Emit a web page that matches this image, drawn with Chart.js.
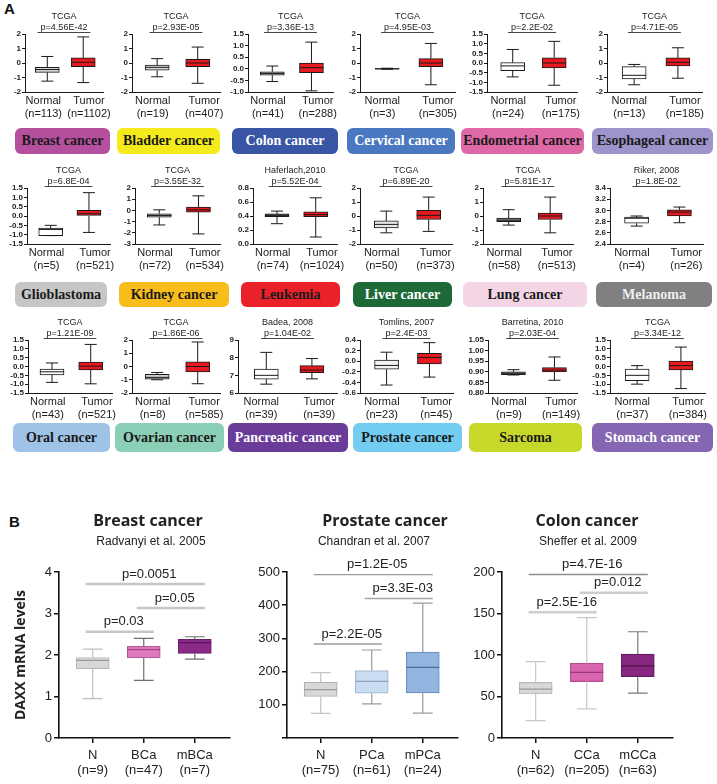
<!DOCTYPE html>
<html>
<head>
<meta charset="utf-8">
<script src="https://cdn.jsdelivr.net/npm/chart.js@4.4.1/dist/chart.umd.min.js"></script>
<style>
  body { margin:0; width:717px; height:784px; background:#fff; position:relative; overflow:hidden;
         font-family:"Liberation Sans", Arial, sans-serif; }
  canvas { position:absolute; }
  .tag { position:absolute; border-radius:6px; display:flex; align-items:center; justify-content:center;
         font-family:"Liberation Serif", "Times New Roman", serif; font-weight:bold; font-size:14px; white-space:nowrap; }
  .letter { position:absolute; font-weight:bold; font-size:15px; color:#111; }
</style>
</head>
<body>
<div class="letter" style="left:4px;top:0px">A</div>
<div class="letter" style="left:9px;top:513px">B</div>
<script>
Chart.defaults.font.family = '"Liberation Sans", Arial, sans-serif';
Chart.defaults.color = '#222';

// ---------- Panel A: Normal vs Tumor, 18 cancer types ----------
const cancers = ['Breast cancer', 'Bladder cancer', 'Colon cancer', 'Cervical cancer', 'Endometrial cancer', 'Esophageal cancer',
                 'Glioblastoma', 'Kidney cancer', 'Leukemia', 'Liver cancer', 'Lung cancer', 'Melanoma',
                 'Oral cancer', 'Ovarian cancer', 'Pancreatic cancer', 'Prostate cancer', 'Sarcoma', 'Stomach cancer'];
const sources = ['TCGA', 'TCGA', 'TCGA', 'TCGA', 'TCGA', 'TCGA',
                 'TCGA', 'TCGA', 'Haferlach,2010', 'TCGA', 'TCGA', 'Riker, 2008',
                 'TCGA', 'TCGA', 'Badea, 2008', 'Tomlins, 2007', 'Barretina, 2010', 'TCGA'];
const pValues = ['p=4.56E-42', 'p=2.93E-05', 'p=3.36E-13', 'p=4.95E-03', 'p=2.2E-02', 'p=4.71E-05',
                 'p=6.8E-04', 'p=3.55E-32', 'p=5.52E-04', 'p=6.89E-20', 'p=5.81E-17', 'p=1.8E-02',
                 'p=1.21E-09', 'p=1.86E-06', 'p=1.04E-02', 'p=2.4E-03', 'p=2.03E-04', 'p=3.34E-12'];
const nNormal = [113, 19, 41, 3, 24, 13, 5, 72, 74, 50, 58, 4, 43, 8, 39, 23, 9, 37];
const nTumor = [1102, 407, 288, 305, 175, 185, 521, 534, 1024, 373, 513, 26, 521, 585, 39, 45, 149, 384];
// [min, q1, median, q3, max]
const normalStats = [
  [-1.25, -0.65, -0.45, -0.3, 0.45], [-0.95, -0.5, -0.3, -0.15, 0.3], [-0.55, -0.27, -0.2, -0.13, 0.12],
  [-0.43, -0.42, -0.4, -0.37, -0.36], [-0.72, -0.4, -0.15, 0.02, 0.7], [-1.5, -1.1, -0.85, -0.25, -0.1],
  [-1.05, -1.05, -0.72, -0.65, -0.5], [-1.3, -0.6, -0.45, -0.3, 0.05], [0.29, 0.39, 0.41, 0.43, 0.47],
  [-1.2, -0.85, -0.6, -0.35, 0.35], [-0.65, -0.4, -0.3, -0.15, 0.45], [2.72, 2.77, 2.86, 2.88, 2.9],
  [-0.9, -0.47, -0.3, -0.15, 0.2], [-1.0, -0.95, -0.82, -0.6, -0.45], [6.5, 6.78, 7.0, 7.35, 8.3],
  [-0.45, -0.15, -0.08, 0.02, 0.17], [0.885, 0.887, 0.893, 0.9, 0.91], [-1.0, -0.8, -0.5, -0.15, 0.05]
];
const tumorStats = [
  [-1.35, -0.25, 0.05, 0.35, 1.8], [-1.4, -0.25, 0.0, 0.25, 1.1], [-0.95, -0.17, 0.05, 0.25, 1.15],
  [-1.5, -0.25, 0.0, 0.3, 1.35], [-1.15, -0.25, 0.0, 0.27, 1.12], [-1.05, -0.2, 0.05, 0.35, 1.05],
  [-0.88, 0.0, 0.12, 0.3, 1.25], [-2.1, -0.15, 0.05, 0.3, 1.3], [0.1, 0.39, 0.42, 0.46, 0.66],
  [-1.1, -0.25, 0.05, 0.4, 1.35], [-1.2, -0.25, 0.0, 0.2, 1.35], [2.78, 2.9, 2.97, 3.01, 3.06],
  [-0.98, -0.2, 0.02, 0.25, 1.25], [-1.3, -0.4, 0.0, 0.35, 1.85], [6.8, 7.15, 7.3, 7.55, 7.95],
  [-0.3, -0.05, 0.07, 0.15, 0.35], [0.86, 0.9, 0.908, 0.92, 0.97], [-1.25, -0.2, 0.05, 0.3, 1.1]
];
const yMin = [-2, -2, -1, -2, -1.5, -2, -1.5, -3, 0, -2, -2, 2.4, -1.5, -2, 6, -0.6, 0.8, -1.5];
const yMax = [2, 2, 1.5, 2, 1.5, 2, 1.5, 2, 0.8, 2, 2, 3.4, 1.5, 2, 9, 0.4, 1.05, 1.5];
const yStep = [1, 1, 0.5, 1, 0.5, 1, 0.5, 1, 0.2, 1, 1, 0.2, 0.5, 1, 1, 0.2, 0.05, 0.5];

// layout / style for panel A
const aAxisX = [25, 132, 248, 360, 487, 607, 27, 135, 253, 360, 483, 610, 28, 132, 238, 360, 488, 610];
const aRight = [103, 220, 333, 455, 577, 702, 110, 220, 337, 452, 573, 703, 112, 220, 337, 453, 577, 705];
const rowTop = [34, 188, 340];
const rowBottom = [92, 244, 393];
const normalFill = ['#d9d9d9', '#d9d9d9', '#cfcfcf', '#555555', '#ffffff', '#ffffff', '#ffffff', '#cfcfcf', '#6e6e6e',
                    '#e6e6e6', '#8f8f8f', '#ffffff', '#ffffff', '#d0d0d0', '#ffffff', '#f2f2f2', '#a0a0a0', '#ffffff'];
const tagTop = [128, 282, 423];
const tagH = [26, 25, 29];
const tagX = [[15, 110], [117, 220], [232, 338], [347, 455], [461, 584], [592, 713],
              [15, 107], [119, 229], [241, 340], [353, 452], [463, 587], [596, 712],
              [13, 110], [115, 224], [228, 348], [353, 462], [469, 582], [592, 713]];
const tagBg = ['#b4509e', '#f4ea1c', '#3955a6', '#4a78c1', '#df68a6', '#9c94cb', '#c6c6c6', '#f8bc1b', '#ea2128',
               '#1d6a38', '#f3d5e5', '#808080', '#9fc3e6', '#8ccfb7', '#6a3b98', '#72cdf0', '#c8d82b', '#8566b2'];
const tagFg = ['#1a1a1a', '#1a1a1a', '#ffffff', '#ffffff', '#1a1a1a', '#1a1a1a', '#1a1a1a', '#1a1a1a', '#1a1a1a',
               '#ffffff', '#1a1a1a', '#eeeeee', '#1a1a1a', '#1a1a1a', '#ffffff', '#1a1a1a', '#1a1a1a', '#ffffff'];

// ---------- Panel B ----------
const breastGroups = ['N', 'BCa', 'mBCa'];
const breastN = [9, 47, 7];
const breastStats = [[0.95, 1.67, 1.87, 1.94, 2.14], [1.39, 1.93, 2.13, 2.21, 2.4], [1.9, 2.04, 2.3, 2.38, 2.44]];
const breastSig = [[0, 2, 3.71, 'p=0.0051'], [1, 2, 3.13, 'p=0.05'], [0, 1, 2.56, 'p=0.03']];

const prostateGroups = ['N', 'PCa', 'mPCa'];
const prostateN = [75, 61, 24];
const prostateStats = [[74, 125, 146, 168, 197], [103, 135, 171, 203, 265], [75, 136, 213, 259, 406]];
const prostateSig = [[0, 2, 492, 'p=1.2E-05'], [1, 2, 420, 'p=3.3E-03'], [0, 1, 283, 'p=2.2E-05']];

const colonGroups = ['N', 'CCa', 'mCCa'];
const colonN = [62, 205, 63];
const colonStats = [[21, 53, 59, 67, 92], [35, 68, 79, 90, 145], [54, 74, 87, 101, 128]];
const colonSig = [[0, 2, 197, 'p=4.7E-16'], [1, 2, 175, 'p=0.012'], [0, 1, 151.5, 'p=2.5E-16']];

function addCanvas(left, top, w, h) {
  const cv = document.createElement('canvas');
  cv.width = w; cv.height = h;
  cv.style.left = left + 'px'; cv.style.top = top + 'px';
  cv.style.width = w + 'px'; cv.style.height = h + 'px';
  document.body.appendChild(cv);
  return cv;
}

// whiskers, caps and median lines, placed with the chart's own scales
function boxPlugin(stats, whisk, med, capFrac, lw) {
  return {
    id: 'whiskers',
    afterDatasetsDraw(chart) {
      const ctx = chart.ctx, y = chart.scales.y;
      const bars = chart.getDatasetMeta(0).data;
      stats.forEach((s, i) => {
        const x = bars[i].x, hw = bars[i].width / 2, cap = hw * capFrac;
        const p = s.map(v => y.getPixelForValue(v));
        ctx.save();
        ctx.lineWidth = lw;
        ctx.strokeStyle = whisk[i];
        ctx.beginPath();
        ctx.moveTo(x, p[3]); ctx.lineTo(x, p[4]);
        ctx.moveTo(x - cap, p[4]); ctx.lineTo(x + cap, p[4]);
        ctx.moveTo(x, p[1]); ctx.lineTo(x, p[0]);
        ctx.moveTo(x - cap, p[0]); ctx.lineTo(x + cap, p[0]);
        ctx.stroke();
        ctx.strokeStyle = med[i];
        ctx.beginPath();
        ctx.moveTo(x - hw, p[2]); ctx.lineTo(x + hw, p[2]);
        ctx.stroke();
        ctx.restore();
      });
    }
  };
}

cancers.forEach((name, i) => {
  const row = Math.floor(i / 6);
  const ax = aAxisX[i], right = aRight[i], top = rowTop[row], bottom = rowBottom[row];
  const left = ax - 26, ctop = top - 26;
  const cv = addCanvas(left, ctop, right + 18 - left, bottom + 32 - ctop);
  const dec = yStep[i] >= 1 ? 0 : (yStep[i] >= 0.1 ? 1 : 2);
  const stats = [normalStats[i], tumorStats[i]];
  new Chart(cv, {
    type: 'bar',
    data: { datasets: [{
      data: stats.map((s, k) => ({ x: k, y: [s[1], s[3]] })),
      backgroundColor: [normalFill[i], '#e5191e'],
      borderColor: '#1a1a1a', borderWidth: 1, borderSkipped: false, barThickness: 24
    }]},
    options: {
      responsive: false, animation: false, devicePixelRatio: 1,
      layout: { padding: { top: 26, right: 18, left: 0, bottom: 0 } },
      plugins: { legend: { display: false }, tooltip: { enabled: false } },
      scales: {
        x: { type: 'linear', min: -0.62, max: 1.55, offset: false,
             afterBuildTicks: s => { s.ticks = [{ value: -0.11 }, { value: 1.16 }]; },
             afterFit: s => { s.height = 32; },
             grid: { display: false, drawTicks: false }, border: { color: '#1a1a1a' },
             ticks: { autoSkip: false, maxRotation: 0, padding: 2, font: { size: 11, lineHeight: 1.2 },
                      callback: v => v < 0.5 ? ['Normal', '(n=' + nNormal[i] + ')'] : ['Tumor', '(n=' + nTumor[i] + ')'] } },
        y: { min: yMin[i], max: yMax[i],
             afterFit: s => { s.width = 26; },
             grid: { drawOnChartArea: false, tickLength: 3, color: '#1a1a1a' }, border: { color: '#1a1a1a' },
             ticks: { stepSize: yStep[i], autoSkip: false, padding: 1, font: { size: 8, weight: 'bold' },
                      callback: v => v.toFixed(dec) } }
      }
    },
    plugins: [boxPlugin(stats, ['#1a1a1a', '#1a1a1a'], ['#1a1a1a', '#1a1a1a'], 0.5, 1), {
      id: 'heading',
      afterDraw(chart) {
        const ctx = chart.ctx, ca = chart.chartArea, cx = (ca.left + ca.right) / 2;
        ctx.save();
        ctx.fillStyle = '#222'; ctx.textAlign = 'center'; ctx.textBaseline = 'middle';
        ctx.font = '9px "Liberation Sans", Arial';
        ctx.fillText(sources[i], cx, ca.top - 17);
        ctx.fillText(pValues[i], cx, ca.top - 6.5);
        const half = ctx.measureText(pValues[i]).width / 2 + 3;
        ctx.strokeStyle = '#444'; ctx.lineWidth = 1;
        ctx.beginPath(); ctx.moveTo(cx - half, ca.top - 1.5); ctx.lineTo(cx + half, ca.top - 1.5); ctx.stroke();
        ctx.restore();
      }
    }]
  });

  const tag = document.createElement('div');
  tag.className = 'tag';
  tag.textContent = name;
  tag.style.left = tagX[i][0] + 'px';
  tag.style.width = (tagX[i][1] - tagX[i][0]) + 'px';
  tag.style.top = tagTop[row] + 'px';
  tag.style.height = tagH[row] + 'px';
  tag.style.background = tagBg[i];
  tag.style.color = tagFg[i];
  document.body.appendChild(tag);
});

function panelB(o) {
  const cv = addCanvas(o.left, 505, o.width, 279);
  new Chart(cv, {
    type: 'bar',
    data: { datasets: [{
      data: o.stats.map((s, k) => ({ x: k, y: [s[1], s[3]] })),
      backgroundColor: o.fills, borderColor: o.borders, borderWidth: 1.2, borderSkipped: false, barThickness: 33
    }]},
    options: {
      responsive: false, animation: false, devicePixelRatio: 1,
      layout: { padding: { top: 67, right: o.padRight, left: 0, bottom: 0 } },
      plugins: { legend: { display: false }, tooltip: { enabled: false } },
      scales: {
        x: { type: 'linear', min: -0.66, max: 2.69, offset: false,
             afterBuildTicks: s => { s.ticks = [{ value: 0 }, { value: 1 }, { value: 2 }]; },
             afterFit: s => { s.height = 46; },
             grid: { drawOnChartArea: false, offset: false, tickLength: 5, color: '#111', lineWidth: 1.5 },
             border: { color: '#111', width: 1.6 },
             ticks: { autoSkip: false, maxRotation: 0, padding: 5, font: { size: 13, lineHeight: 1.15 },
                      callback: v => [o.groups[v], '(n=' + o.ns[v] + ')'] } },
        y: { min: 0, max: o.yMax,
             afterFit: s => { s.width = o.axisW; },
             title: { display: !!o.yTitle, text: o.yTitle || '', color: '#222', padding: { top: 13 },
                      font: { family: '"Open Sans", "Liberation Sans"', size: 14, weight: 'bold' } },
             grid: { drawOnChartArea: false, tickLength: 5, color: '#111', lineWidth: 1.5 },
             border: { color: '#111', width: 1.6 },
             ticks: { stepSize: o.yStep, autoSkip: false, padding: 2, font: { size: 13 },
                      callback: v => (o.hideZero && v === 0) ? '' : v } }
      }
    },
    plugins: [boxPlugin(o.stats, o.whisk, o.meds, 0.6, 1.2), {
      id: 'notes',
      afterDraw(chart) {
        const ctx = chart.ctx, xs = chart.scales.x, ys = chart.scales.y;
        ctx.save();
        ctx.textAlign = 'center'; ctx.textBaseline = 'middle'; ctx.fillStyle = '#222';
        ctx.font = 'bold 16px "Open Sans", "Liberation Sans"';
        ctx.fillText(o.title, o.titleX - o.left, 16);
        ctx.font = '12px "Liberation Sans", Arial';
        ctx.fillText(o.sub, o.subX - o.left, 37);
        ctx.font = '13px "Liberation Sans", Arial';
        o.sig.forEach((s, k) => {
          const x1 = xs.getPixelForValue(s[0]) - 7, x2 = xs.getPixelForValue(s[1]) + 10;
          const y = ys.getPixelForValue(s[2]);
          ctx.strokeStyle = o.sigColor[k]; ctx.lineWidth = o.sigWidth[k];
          ctx.beginPath(); ctx.moveTo(x1, y); ctx.lineTo(x2, y); ctx.stroke();
          ctx.fillText(s[3], (x1 + x2) / 2 + 4, y - 10);
        });
        ctx.restore();
      }
    }]
  });
}

panelB({ left: 0, width: 240, axisW: 59, padRight: 10, yMax: 4, yStep: 1, hideZero: false,
  title: 'Breast cancer', titleX: 148, sub: 'Radvanyi et al. 2005', subX: 151, yTitle: 'DAXX mRNA levels',
  groups: breastGroups, ns: breastN, stats: breastStats, sig: breastSig,
  sigColor: ['#c6c6c6', '#c6c6c6', '#c6c6c6'], sigWidth: [2.5, 2.5, 2.5],
  fills: ['#d8d8d8', '#e07abf', '#8c2a8a'], borders: ['#b8b8b8', '#b9559a', '#6e1f6c'],
  whisk: ['#c0c0c0', '#707070', '#707070'], meds: ['#9a9a9a', '#a24489', '#5a1558'] });

panelB({ left: 240, width: 230, axisW: 47, padRight: 12, yMax: 500, yStep: 100, hideZero: true,
  title: 'Prostate cancer', titleX: 385, sub: 'Chandran et al. 2007', subX: 374,
  groups: prostateGroups, ns: prostateN, stats: prostateStats, sig: prostateSig,
  sigColor: ['#9a9a9a', '#a8a8a8', '#9a9a9a'], sigWidth: [1.4, 1.4, 1.4],
  fills: ['#d8d8d8', '#cadcf2', '#92b6e0'], borders: ['#b0b0b0', '#a6bcd6', '#6e92bd'],
  whisk: ['#c4c4c4', '#9a9a9a', '#9a9a9a'], meds: ['#9a9a9a', '#7c93b2', '#4d6d96'] });

panelB({ left: 470, width: 247, axisW: 32, padRight: 44, yMax: 200, yStep: 50, hideZero: false,
  title: 'Colon cancer', titleX: 587, sub: 'Sheffer et al. 2009', subX: 588,
  groups: colonGroups, ns: colonN, stats: colonStats, sig: colonSig,
  sigColor: ['#8f8f8f', '#cdcdcd', '#cdcdcd'], sigWidth: [1.3, 2.5, 2.5],
  fills: ['#d8d8d8', '#d865ad', '#86287f'], borders: ['#b8b8b8', '#b54d90', '#651c5f'],
  whisk: ['#c8c8c8', '#c8c8c8', '#7a7a7a'], meds: ['#9a9a9a', '#9a3a7c', '#4d1148'] });
</script>
</body>
</html>
